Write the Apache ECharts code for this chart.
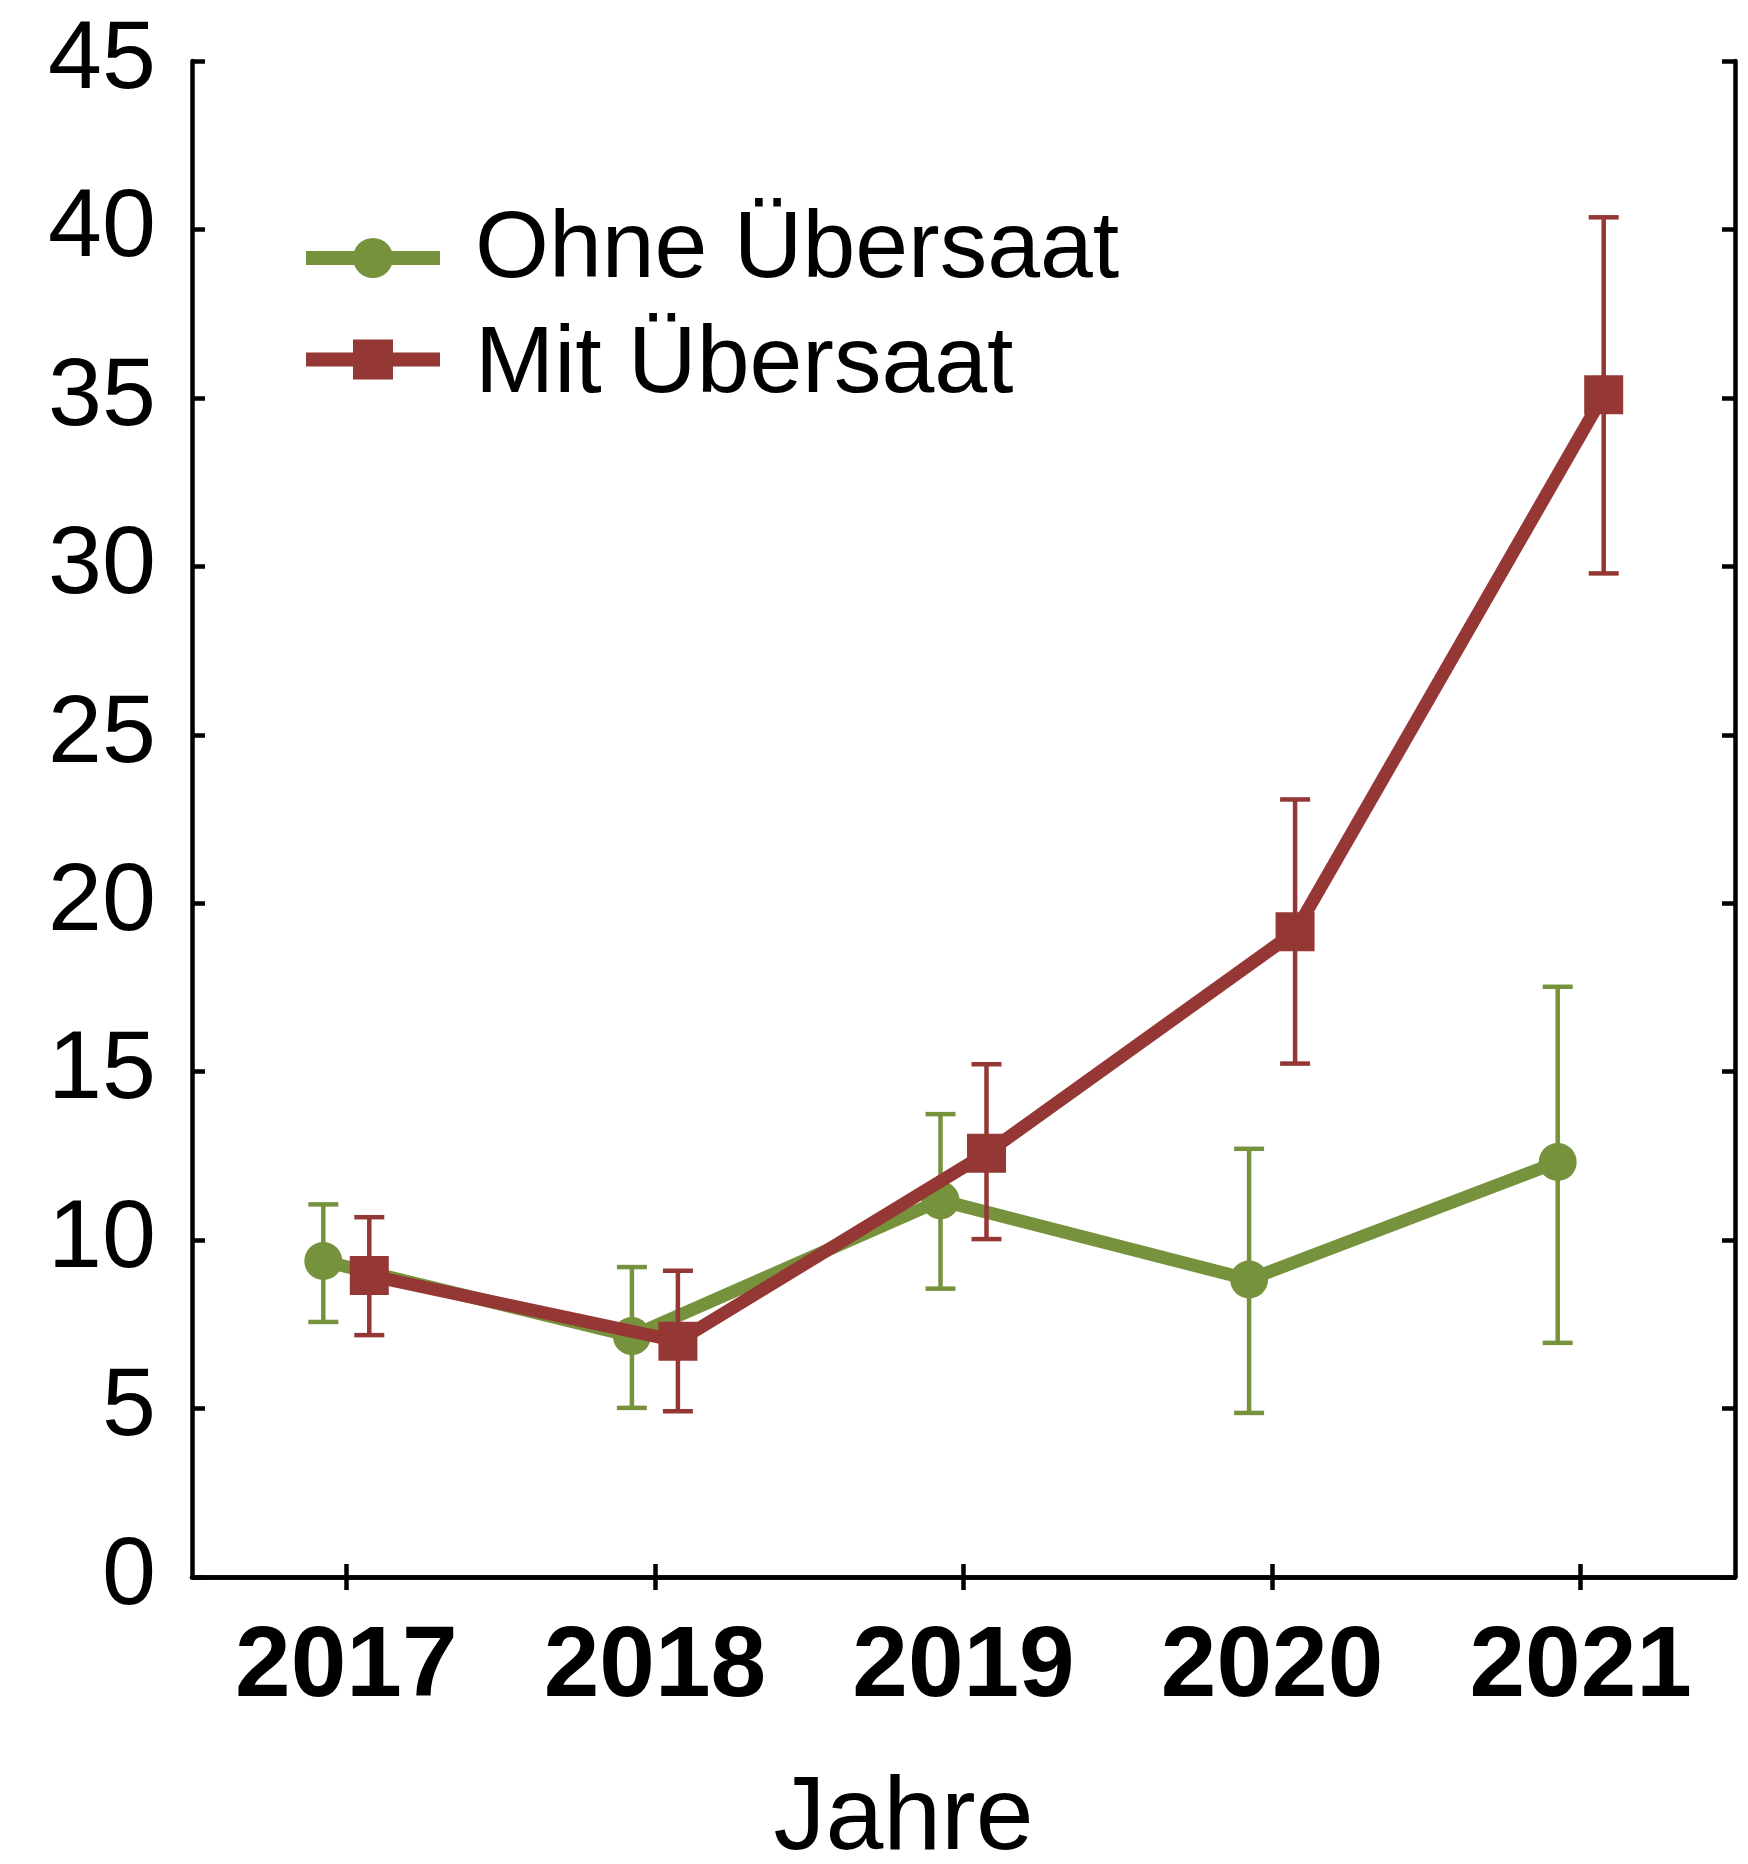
<!DOCTYPE html>
<html lang="de">
<head>
<meta charset="UTF-8" />
<title>Ohne / Mit Übersaat</title>
<script src="https://cdn.jsdelivr.net/npm/echarts@6.0.0/dist/echarts.min.js"></script>
<style>
  html, body { margin: 0; padding: 0; background: #fff; }
  #main { width: 1748px; height: 1864px; }
</style>
</head>
<body>
<div id="main"></div>
<script type="text/javascript">
// values
const years = ["2017", "2018", "2019", "2020", "2021"];

const ohneMean = [9.38, 7.15, 11.18, 8.83, 12.32];
const ohneLow = [7.57, 5.02, 8.56, 4.87, 6.95];
const ohneHigh = [11.06, 9.2, 13.74, 12.71, 17.52];

const mitMean = [8.95, 7.0, 12.58, 19.15, 35.09];
const mitLow = [7.18, 4.92, 10.03, 15.24, 29.79];
const mitHigh = [10.68, 9.09, 15.22, 23.08, 40.36];

const yMin = 0;
const yMax = 45;
const yStep = 5;

const GREEN = "#76923c";
const RED = "#953735";
const FONT = "'Liberation Sans', Arial, sans-serif";

// legend icons: bar with marker in the middle; the tiny extra stroke only
// pads the icon box so the mark sits a bit lower / higher than the text
const circleIcon = "path://M67,-14 L67.01,-14 Z M0,13 L134,13 L134,27 L0,27 Z M47,20 A20,20 0 1,1 87,20 A20,20 0 1,1 47,20 Z";
const squareIcon = "path://M67,53 L67.01,53 Z M0,13 L47,13 L47,0 L87,0 L87,13 L134,13 L134,27 L87,27 L87,40 L47,40 L47,27 L0,27 Z";

function toData(mean, low, high) {
  return mean.map((m, i) => [i, m, low[i], high[i]]);
}

// each point: segment from the previous point, error bar, marker (dodged by shift px)
function makeRender(mean, shift, symbol) {
  return function (params, api) {
    const i = params.dataIndex;
    const p = api.coord([i, api.value(1)]);
    const lo = api.coord([i, api.value(2)]);
    const hi = api.coord([i, api.value(3)]);
    const x = p[0] + shift;
    const color = api.visual("color");
    const kids = [];
    if (i > 0) {
      const q = api.coord([i - 1, mean[i - 1]]);
      kids.push({
        type: "line", z2: 1,
        shape: { x1: q[0] + shift, y1: q[1], x2: x, y2: p[1] },
        style: { stroke: color, lineWidth: 13 }
      });
    }
    const bar = { stroke: color, lineWidth: 4.5 };
    kids.push({ type: "line", z2: 2, shape: { x1: x, y1: hi[1], x2: x, y2: lo[1] }, style: bar });
    kids.push({ type: "line", z2: 2, shape: { x1: x - 15, y1: hi[1], x2: x + 15, y2: hi[1] }, style: bar });
    kids.push({ type: "line", z2: 2, shape: { x1: x - 15, y1: lo[1], x2: x + 15, y2: lo[1] }, style: bar });
    if (symbol === "circle") {
      kids.push({ type: "circle", z2: 3, shape: { cx: x, cy: p[1], r: 19 }, style: { fill: color } });
    } else {
      kids.push({ type: "rect", z2: 3, shape: { x: x - 19.5, y: p[1] - 19.5, width: 39, height: 39 }, style: { fill: color } });
    }
    return { type: "group", children: kids };
  };
}

const chart = echarts.init(document.getElementById("main"), null, { renderer: "canvas" });

const axisLine = { show: true, lineStyle: { color: "#000", width: 4.5 } };
const axisTick = { show: true, inside: true, length: 13, lineStyle: { color: "#000", width: 4.5 } };
const legendText = {
  fontFamily: FONT, fontSize: 95, color: "#000", lineHeight: 100, padding: [0, 0, 0, 30]
};

chart.setOption({
  backgroundColor: "#fff",
  animation: false,
  grid: {
    left: 192, right: 13, top: 61, bottom: 287,
    containLabel: false, outerBoundsMode: "none"
  },
  legend: [
    {
      orient: "vertical", left: 306, top: 201, padding: 0,
      itemWidth: 134, itemHeight: 54,
      textStyle: legendText,
      data: [{ name: "Ohne Übersaat", icon: circleIcon }]
    },
    {
      orient: "vertical", left: 306, top: 316, padding: 0,
      itemWidth: 134, itemHeight: 53,
      textStyle: legendText,
      data: [{ name: "Mit Übersaat", icon: squareIcon }]
    }
  ],
  xAxis: [
    {
      type: "category",
      data: years,
      position: "bottom",
      boundaryGap: true,
      axisLine: axisLine,
      axisTick: Object.assign({ alignWithLabel: true }, axisTick),
      axisLabel: {
        fontFamily: FONT, fontSize: 100, fontWeight: "bold", color: "#000", margin: 41
      },
      splitLine: { show: false },
      name: "Jahre",
      nameLocation: "middle",
      nameGap: 191,
      nameTextStyle: {
        fontFamily: FONT, fontSize: 104, color: "#000", padding: [0, 120, 0, 0]
      }
    },
    {
      type: "category",
      data: years,
      position: "top",
      boundaryGap: true,
      axisLine: axisLine,
      axisTick: Object.assign({ alignWithLabel: true }, axisTick),
      axisLabel: { show: false },
      splitLine: { show: false }
    }
  ],
  yAxis: [
    {
      type: "value",
      min: yMin, max: yMax, interval: yStep,
      position: "left",
      axisLine: axisLine,
      axisTick: axisTick,
      axisLabel: { fontFamily: FONT, fontSize: 97, color: "#000", margin: 36 },
      splitLine: { show: false }
    },
    {
      type: "value",
      min: yMin, max: yMax, interval: yStep,
      position: "right",
      axisLine: axisLine,
      axisTick: axisTick,
      axisLabel: { show: false },
      splitLine: { show: false }
    }
  ],
  series: [
    {
      name: "Ohne Übersaat",
      type: "custom",
      xAxisIndex: 0, yAxisIndex: 0,
      z: 2,
      itemStyle: { color: GREEN },
      encode: { x: 0, y: 1 },
      renderItem: makeRender(ohneMean, -23, "circle"),
      data: toData(ohneMean, ohneLow, ohneHigh)
    },
    {
      name: "Mit Übersaat",
      type: "custom",
      xAxisIndex: 0, yAxisIndex: 0,
      z: 3,
      itemStyle: { color: RED },
      encode: { x: 0, y: 1 },
      renderItem: makeRender(mitMean, 23, "square"),
      data: toData(mitMean, mitLow, mitHigh)
    }
  ]
});
</script>
</body>
</html>
